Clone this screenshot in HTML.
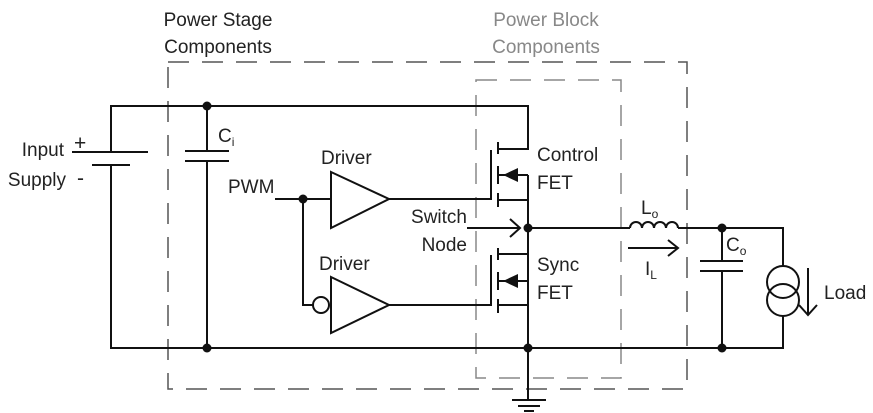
<!DOCTYPE html><html><head><style>body{margin:0;background:#fff}svg{display:block}text{font-family:"Liberation Sans",sans-serif;font-size:19px;fill:#222}</style></head><body>
<svg width="873" height="413" viewBox="0 0 873 413" xmlns="http://www.w3.org/2000/svg">
<g fill="none" stroke-width="2">
<rect x="168" y="62" width="519" height="327" stroke="#555" stroke-dasharray="21,13" stroke-width="1.5"/>
<rect x="476" y="80" width="145" height="298" stroke="#888" stroke-dasharray="21,13" stroke-width="1.5"/>
</g>
<g stroke="#111" stroke-width="2" fill="none">
<polyline points="111,152 111,106 528,106 528,149 498,149"/>
<polyline points="111,165 111,348 781,348"/>
<line x1="72" y1="152" x2="148" y2="152"/><line x1="92" y1="165" x2="130" y2="165"/>
<line x1="207" y1="106" x2="207" y2="151"/><line x1="207" y1="161" x2="207" y2="348"/>
<line x1="185" y1="151" x2="229" y2="151"/><line x1="185" y1="161" x2="229" y2="161"/>
<line x1="275" y1="199" x2="331" y2="199"/>
<polyline points="303,199 303,305 313,305"/>
<polygon points="331,172 389,199 331,228"/>
<polygon points="331,277 389,305 331,333"/>
<circle cx="321" cy="305" r="8"/>
<line x1="389" y1="199" x2="491" y2="199"/><line x1="491" y1="150" x2="491" y2="200"/>
<line x1="389" y1="305" x2="491" y2="305"/><line x1="491" y1="255" x2="491" y2="306"/>
<line x1="498" y1="142" x2="498" y2="154"/><line x1="498" y1="166" x2="498" y2="184"/><line x1="498" y1="193" x2="498" y2="207"/>
<line x1="498" y1="248" x2="498" y2="260"/><line x1="498" y1="272" x2="498" y2="290"/><line x1="498" y1="299" x2="498" y2="313"/>
<line x1="498" y1="175" x2="528" y2="175"/><line x1="498" y1="200" x2="528" y2="200"/>
<line x1="528" y1="175" x2="528" y2="348"/>
<line x1="498" y1="254" x2="528" y2="254"/><line x1="498" y1="281" x2="528" y2="281"/><line x1="498" y1="305" x2="528" y2="305"/>
<line x1="528" y1="348" x2="528" y2="400"/>
<line x1="512" y1="400" x2="546" y2="400"/><line x1="518" y1="406" x2="540" y2="406"/><line x1="524" y1="411" x2="534" y2="411"/>
<line x1="467" y1="228" x2="520" y2="228"/><polyline points="510,219 520,228 510,237"/>
<line x1="528" y1="228" x2="630" y2="228"/>
<path d="M630,228 a6,6 0 0 1 12,0 a6,6 0 0 1 12,0 a6,6 0 0 1 12,0 a6,6 0 0 1 12,0"/>
<polyline points="678,228 783,228 783,266"/>
<line x1="628" y1="248" x2="678" y2="248"/><polyline points="668,240 678,248 668,256"/>
<line x1="722" y1="228" x2="722" y2="261"/><line x1="722" y1="271" x2="722" y2="348"/>
<line x1="700" y1="261" x2="743" y2="261"/><line x1="700" y1="271" x2="743" y2="271"/>
<circle cx="783" cy="282" r="16"/><circle cx="783" cy="300" r="16"/>
<polyline points="783,316 783,348 781,348"/>
<line x1="808" y1="268" x2="808" y2="315"/><polyline points="799,305 808,315 817,305"/>
</g>
<g fill="#111">
<polygon points="503,175 518,168 518,182"/><polygon points="503,281 518,274 518,288"/>
<circle cx="207" cy="106" r="4.5"/><circle cx="207" cy="348" r="4.5"/><circle cx="303" cy="199" r="4.5"/>
<circle cx="528" cy="228" r="4.5"/><circle cx="528" cy="348" r="4.5"/><circle cx="722" cy="228" r="4.5"/><circle cx="722" cy="348" r="4.5"/>
</g>
<text x="218" y="26" text-anchor="middle">Power Stage</text><text x="218" y="53" text-anchor="middle">Components</text>
<text x="546" y="26" text-anchor="middle" style="fill:#888">Power Block</text><text x="546" y="53" text-anchor="middle" style="fill:#888">Components</text>
<text x="64" y="156" text-anchor="end">Input</text><text x="66" y="186" text-anchor="end">Supply</text>
<text x="74" y="150" style="font-size:21px">+</text><text x="77" y="185" style="font-size:21px">-</text>
<text x="218" y="142">C<tspan style="font-size:12px" dy="4">i</tspan></text>
<text x="228" y="193">PWM</text>
<text x="321" y="164">Driver</text><text x="319" y="270">Driver</text>
<text x="467" y="223" text-anchor="end">Switch</text><text x="467" y="251" text-anchor="end">Node</text>
<text x="537" y="161">Control</text><text x="537" y="189">FET</text>
<text x="537" y="271">Sync</text><text x="537" y="299">FET</text>
<text x="641" y="214">L<tspan style="font-size:12px" dy="4">o</tspan></text>
<text x="645" y="275">I<tspan style="font-size:12px" dy="4">L</tspan></text>
<text x="726" y="251">C<tspan style="font-size:12px" dy="4">o</tspan></text>
<text x="824" y="299">Load</text>
</svg></body></html>
